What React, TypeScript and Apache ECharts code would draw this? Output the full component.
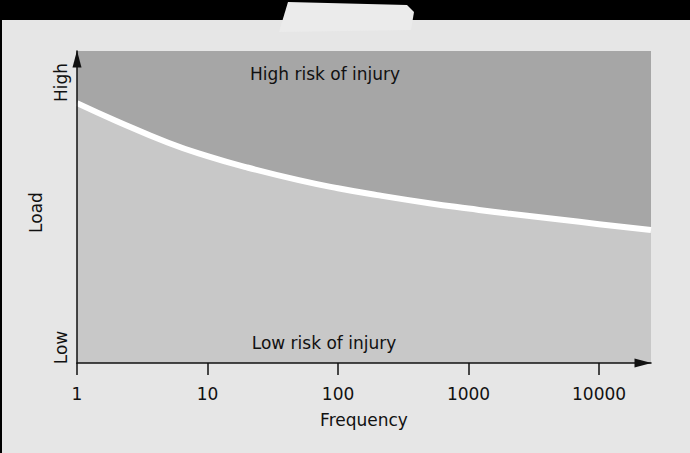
import React, { useEffect, useRef } from "react";
import * as echarts from "echarts";

const frequencies = [1, 2, 5, 10, 20, 50, 100, 200, 500, 1000, 2000, 5000, 10000, 25000];
const loadThreshold = [83.3, 77.6, 70.6, 66.3, 62.7, 58.6, 56.0, 53.8, 51.2, 49.5, 47.9, 46.0, 44.5, 42.6];
const tickValues = [1, 10, 100, 1000, 10000];
const upperLabel = "High risk of injury";
const lowerLabel = "Low risk of injury";
const xName = "Frequency";
const yName = "Load";
const yHigh = "High";
const yLow = "Low";

const FONT = "DejaVu Sans";

export default function App() {
  const ref = useRef<HTMLDivElement>(null);
  useEffect(() => {
    if (!ref.current) return;
    const chart = echarts.init(ref.current, null, { renderer: "svg" });
    const data = frequencies.map((f, i) => [f, loadThreshold[i]]);
    const txt = (text: string, x: number, y: number, rot = 0) => ({
      type: "text",
      x,
      y,
      z: 100,
      rotation: rot,
      style: { text, fontFamily: FONT, fontSize: 17, fill: "#111", align: "center", verticalAlign: "middle" },
    });
    chart.setOption({
      animation: false,
      backgroundColor: "#e6e6e6",
      grid: {
        left: 77,
        right: 39,
        top: 51,
        bottom: 90,
        show: true,
        backgroundColor: "#a6a6a6",
        borderWidth: 0,
      },
      xAxis: {
        type: "log",
        logBase: 10,
        min: 1,
        max: 25000,
        z: 10,
        name: xName,
        nameLocation: "middle",
        nameGap: 48,
        nameTextStyle: { fontFamily: FONT, fontSize: 17, color: "#111" },
        axisLine: {
          show: true,
          onZero: false,
          symbol: ["none", "triangle"],
          symbolSize: [9, 17],
          symbolOffset: [0, -8],
          lineStyle: { color: "#111", width: 1.5 },
        },
        axisTick: {
          show: true,
          inside: false,
          length: 12,
          customValues: tickValues,
          lineStyle: { color: "#111", width: 1.5 },
        },
        axisLabel: {
          show: true,
          customValues: tickValues,
          margin: 22,
          fontFamily: FONT,
          fontSize: 17,
          color: "#111",
          formatter: (v: number) => String(Math.round(v)),
        },
        splitLine: { show: false },
        minorTick: { show: false },
        minorSplitLine: { show: false },
      },
      yAxis: {
        type: "value",
        min: 0,
        max: 100,
        z: 10,
        axisLine: {
          show: true,
          onZero: false,
          symbol: ["none", "triangle"],
          symbolSize: [9, 17],
          symbolOffset: [0, -8],
          lineStyle: { color: "#111", width: 1.5 },
        },
        axisTick: { show: false },
        axisLabel: { show: false },
        splitLine: { show: false },
      },
      series: [
        {
          type: "line",
          data,
          smooth: 0.5,
          showSymbol: false,
          symbol: "none",
          lineStyle: { color: "#ffffff", width: 6 },
          areaStyle: { color: "#c8c8c8", origin: "start", opacity: 1 },
          z: 2,
        },
      ],
      graphic: [
        { type: "rect", shape: { x: 0, y: 0, width: 690, height: 20 }, style: { fill: "#000" } },
        { type: "rect", shape: { x: 0, y: 0, width: 2, height: 453 }, style: { fill: "#000" } },
        {
          type: "polygon",
          shape: { points: [[288, 2], [407, 5], [414, 12], [411, 30], [279, 32]] },
          style: { fill: "#ebebeb" },
        },
        txt(upperLabel, 325, 74),
        txt(lowerLabel, 324, 343),
        txt(yHigh, 61, 82.5, Math.PI / 2),
        txt(yLow, 61, 347.5, Math.PI / 2),
        txt(yName, 36, 212.5, Math.PI / 2),
      ],
    });
    return () => chart.dispose();
  }, []);
  return (
    <div
      ref={ref}
      style={{ position: "fixed", left: 0, top: 0, width: 690, height: 453 }}
    />
  );
}
